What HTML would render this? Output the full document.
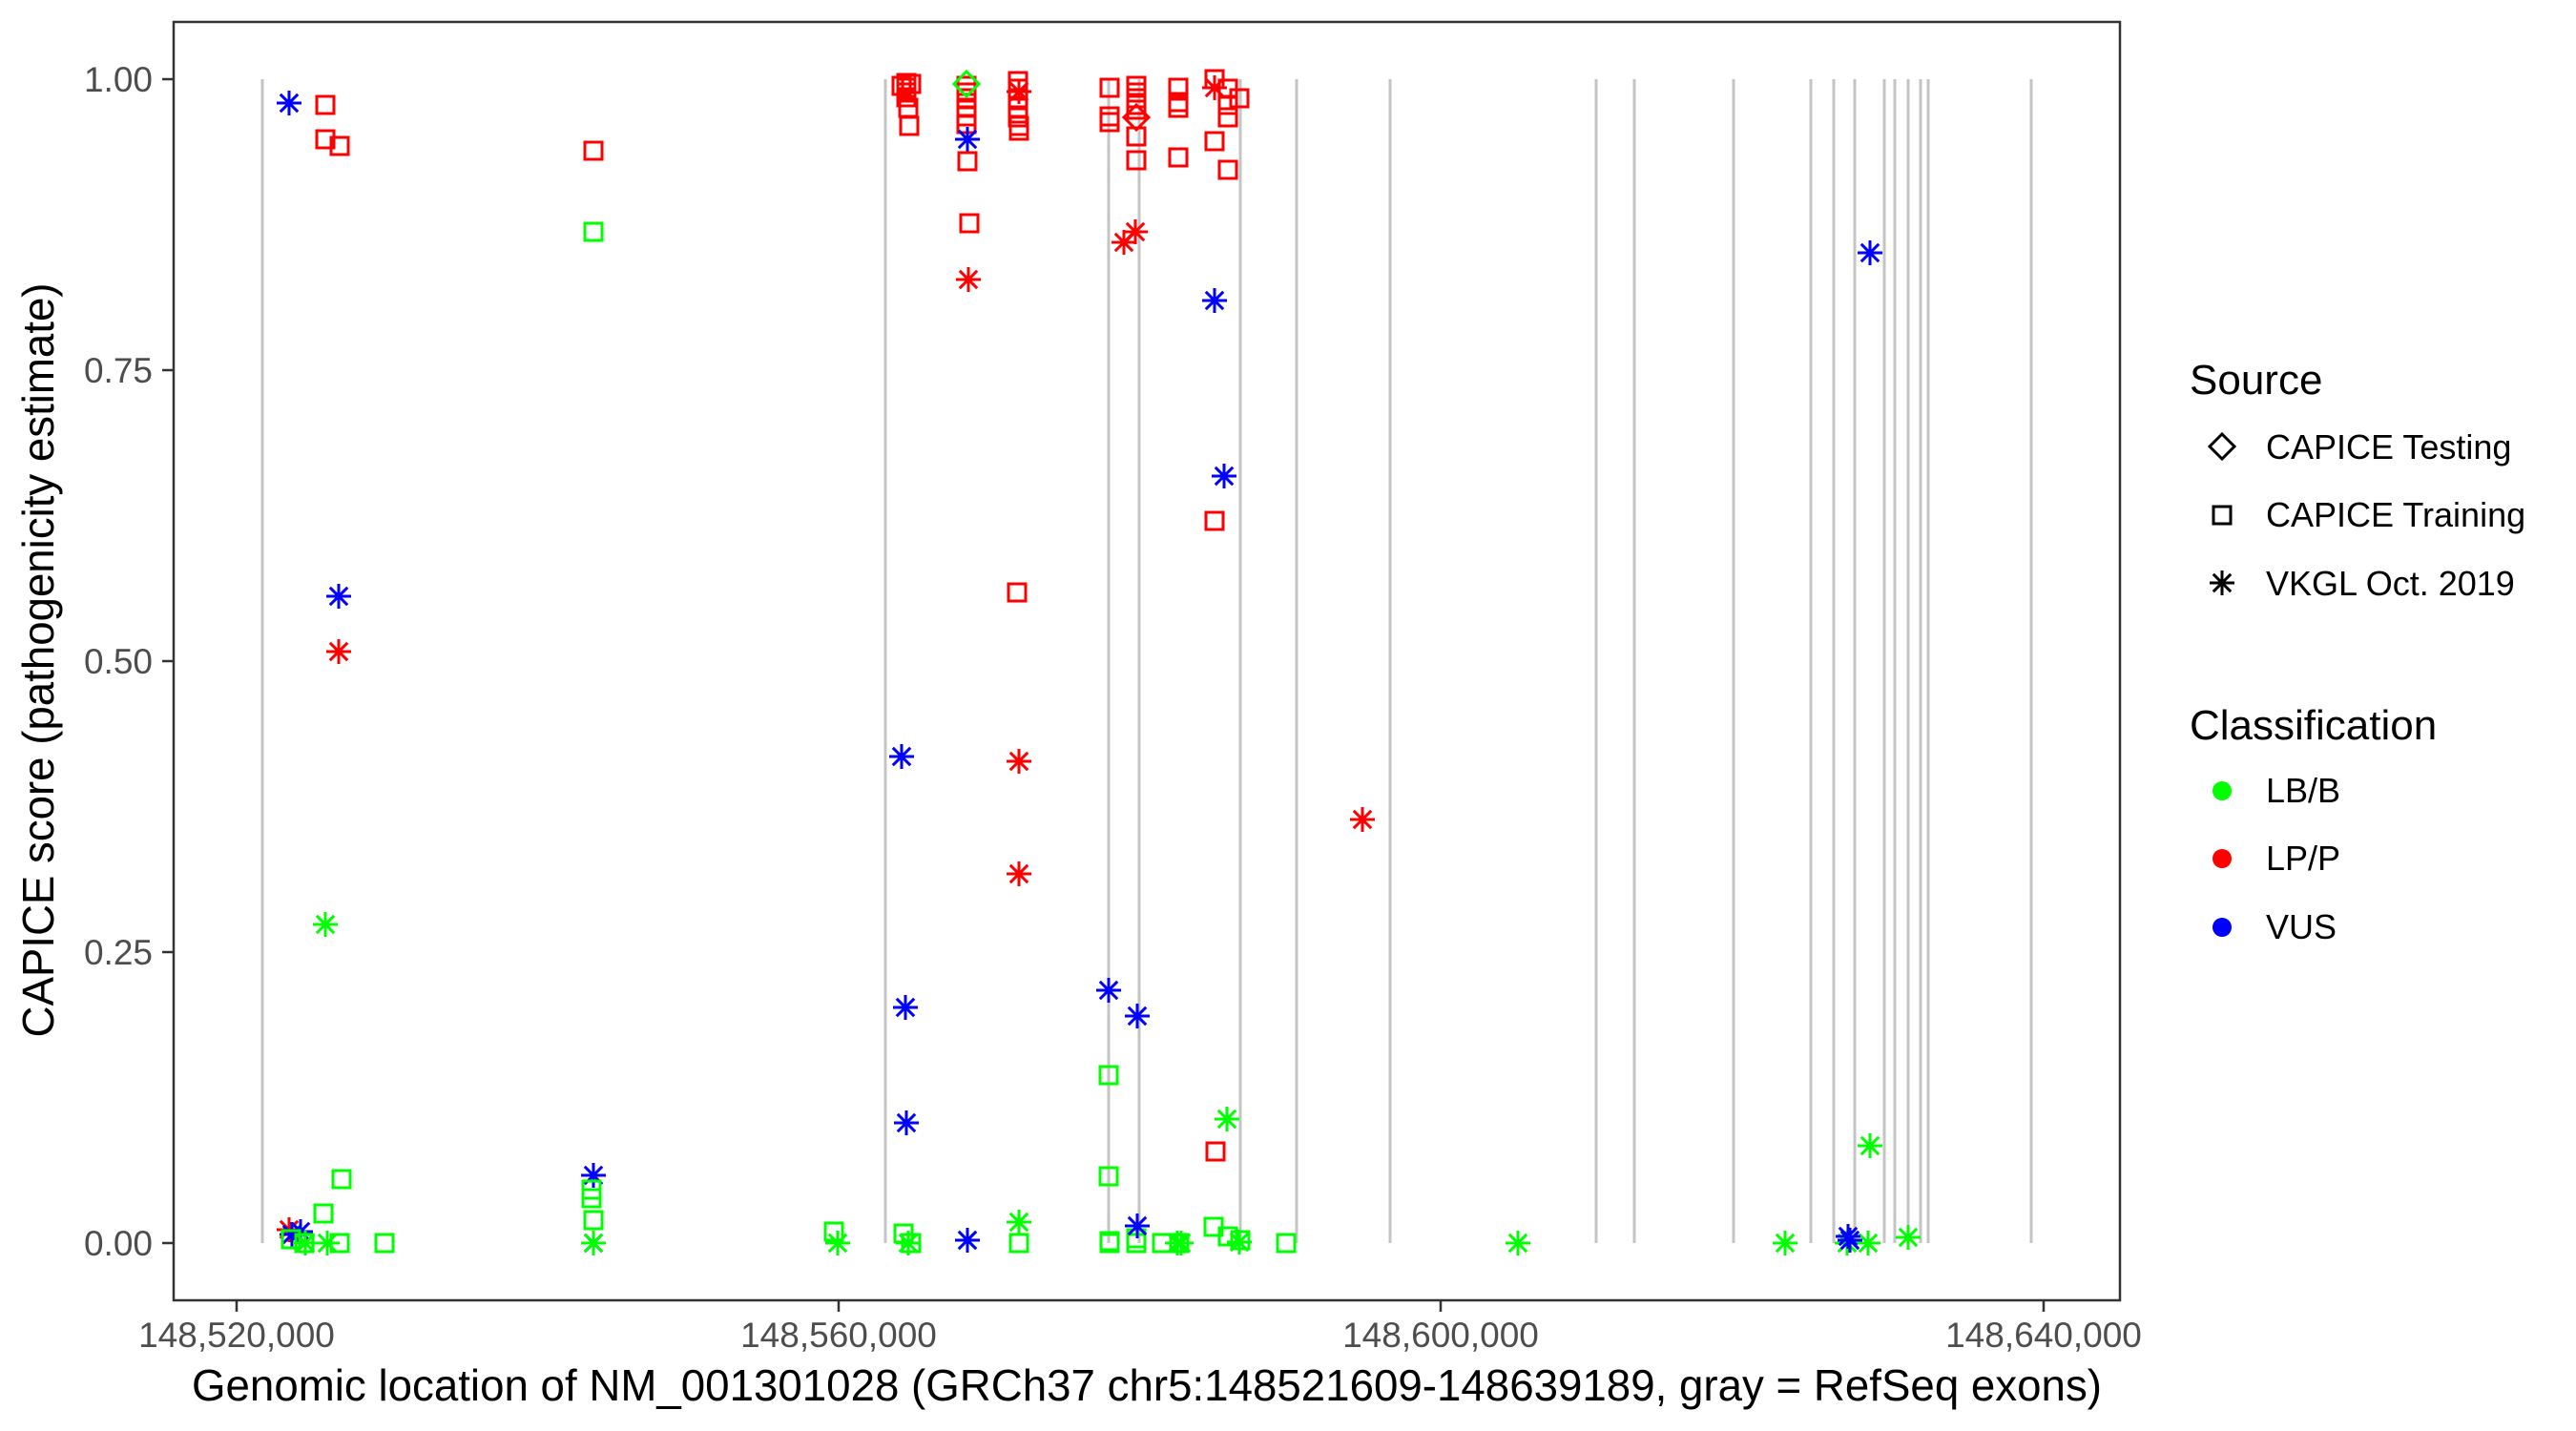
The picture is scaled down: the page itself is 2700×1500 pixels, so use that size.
<!DOCTYPE html>
<html><head><meta charset="utf-8"><style>html,body{margin:0;padding:0;background:#fff}svg{display:block}</style></head>
<body>
<svg id="s" xmlns="http://www.w3.org/2000/svg" width="2700" height="1500" viewBox="0 0 2700 1500" font-family="Liberation Sans, Arial, sans-serif">
<rect width="2700" height="1500" fill="#fff"/>
<g id="ex" stroke="#c4c4c4" stroke-width="3"></g>
<g id="pts" fill="none" stroke-width="3"></g>
<rect x="182" y="23" width="2040" height="1340" fill="none" stroke="#333" stroke-width="2.5"/>
<g stroke="#333" stroke-width="2.5">
<line x1="170" y1="83" x2="182" y2="83"/><line x1="170" y1="388" x2="182" y2="388"/><line x1="170" y1="693" x2="182" y2="693"/><line x1="170" y1="998" x2="182" y2="998"/><line x1="170" y1="1303" x2="182" y2="1303"/>
<line x1="248" y1="1363" x2="248" y2="1375"/><line x1="879" y1="1363" x2="879" y2="1375"/><line x1="1510" y1="1363" x2="1510" y2="1375"/><line x1="2142" y1="1363" x2="2142" y2="1375"/>
</g>
<g fill="#4d4d4d" font-size="37" text-anchor="end">
<text x="160" y="96">1.00</text><text x="160" y="401">0.75</text><text x="160" y="706">0.50</text><text x="160" y="1011">0.25</text><text x="160" y="1316">0.00</text>
</g>
<g fill="#4d4d4d" font-size="37" text-anchor="middle">
<text x="248" y="1412">148,520,000</text><text x="879" y="1412">148,560,000</text><text x="1510" y="1412">148,600,000</text><text x="2142" y="1412">148,640,000</text>
</g>
<text x="1202" y="1468" font-size="46" text-anchor="middle" textLength="2002" lengthAdjust="spacingAndGlyphs">Genomic location of NM_001301028 (GRCh37 chr5:148521609-148639189, gray = RefSeq exons)</text>
<text transform="translate(56,692) rotate(-90)" font-size="46" text-anchor="middle" textLength="791" lengthAdjust="spacingAndGlyphs">CAPICE score (pathogenicity estimate)</text>
<text x="2295" y="413" font-size="44">Source</text>
<g font-size="36"><text x="2375" y="481">CAPICE Testing</text><text x="2375" y="552">CAPICE Training</text><text x="2375" y="624">VKGL Oct. 2019</text></g>
<text x="2295" y="775" font-size="44">Classification</text>
<g font-size="36"><text x="2375" y="841">LB/B</text><text x="2375" y="912">LP/P</text><text x="2375" y="984">VUS</text></g>
<g id="leg" fill="none" stroke="#000" stroke-width="3"></g>
<circle cx="2329" cy="829" r="10" fill="#00ff00"/><circle cx="2329" cy="900" r="10" fill="#ff0000"/><circle cx="2329" cy="972" r="10" fill="#0000ff"/>
</svg>
<script>
var NS="http://www.w3.org/2000/svg";
function el(p,t,a){var e=document.createElementNS(NS,t);for(var k in a)e.setAttribute(k,a[k]);p.appendChild(e);return e;}
var ex=document.getElementById('ex');
[275,928,1162,1194,1300,1359,1457,1673,1713,1817,1898,1922,1944,1975,1986,2000,2013,2021,2129].forEach(function(x){el(ex,'line',{x1:x,y1:83,x2:x,y2:1303});});
var C={g:'#00ff00',r:'#ff0000',b:'#0000ff'};
function mk(p,s,x,y,c){
 if(s=='s'){el(p,'rect',{x:x-9,y:y-9,width:18,height:18,stroke:c});}
 else if(s=='d'){el(p,'path',{d:'M'+x+' '+(y-13)+'L'+(x+13)+' '+y+'L'+x+' '+(y+13)+'L'+(x-13)+' '+y+'Z',stroke:c});}
 else{var r=13,q=9.2;el(p,'path',{d:'M'+x+' '+(y-r)+'V'+(y+r)+'M'+(x-r)+' '+y+'H'+(x+r)+'M'+(x-q)+' '+(y-q)+'L'+(x+q)+' '+(y+q)+'M'+(x-q)+' '+(y+q)+'L'+(x+q)+' '+(y-q),stroke:c});}
}
var P=[
['a',303,108,'b'],['s',341,110,'r'],['s',341,146,'r'],['s',356,153,'r'],['s',622,158,'r'],['s',622,243,'g'],
['a',355,625,'b'],['a',355,683,'r'],['a',341,969,'g'],['s',358,1236,'g'],['s',339,1272,'g'],
['a',303,1289,'r'],['a',306,1294,'b'],['a',315,1291,'b'],['s',305,1299,'g'],['s',319,1303,'g'],['a',320,1303,'g'],['a',343,1303,'g'],['s',356,1303,'g'],['s',403,1303,'g'],
['a',622,1232,'b'],['s',620,1247,'g'],['s',620,1256,'g'],['s',622,1279,'g'],['a',622,1303,'b'],['a',622,1303,'g'],
['s',874,1291,'g'],['a',878,1303,'g'],
['s',950,87,'r'],['s',950,92,'r'],['s',950,97,'r'],['s',950,102,'r'],['s',952,113,'r'],['s',953,132,'r'],['s',945,90,'r'],['s',955,88,'r'],
['s',1013,90,'r'],['s',1013,97,'r'],['s',1013,103,'r'],['s',1013,113,'r'],['s',1013,122,'r'],['s',1013,130,'r'],['d',1013,88,'g'],
['a',1014,146,'b'],['s',1014,169,'r'],['s',1016,234,'r'],['a',1015,293,'r'],
['s',1067,85,'r'],['s',1067,93,'r'],['s',1067,103,'r'],['s',1067,113,'r'],['s',1067,123,'r'],['s',1068,132,'r'],['s',1068,137,'r'],['a',1068,96,'r'],
['s',1163,92,'r'],['s',1163,122,'r'],['s',1163,128,'r'],
['s',1191,90,'r'],['s',1191,97,'r'],['s',1191,103,'r'],['s',1191,110,'r'],['s',1191,115,'r'],['d',1191,123,'r'],['s',1191,143,'r'],['s',1191,168,'r'],['a',1190,243,'r'],['a',1178,254,'r'],
['s',1235,92,'r'],['s',1235,107,'r'],['s',1235,113,'r'],['s',1235,165,'r'],
['s',1273,83,'r'],['a',1273,92,'r'],['s',1273,148,'r'],['s',1287,93,'r'],['s',1287,110,'r'],['s',1287,123,'r'],['s',1287,178,'r'],['s',1299,103,'r'],
['a',945,793,'b'],['a',949,1056,'b'],['a',950,1177,'b'],['a',1068,798,'r'],['a',1068,916,'r'],['s',1066,621,'r'],
['a',1162,1038,'b'],['a',1192,1065,'b'],['s',1162,1127,'g'],['s',1162,1233,'g'],
['a',1273,315,'b'],['s',1273,546,'r'],['a',1283,499,'b'],['a',1286,1173,'g'],['s',1274,1207,'r'],
['a',1428,859,'r'],['a',1960,265,'b'],['a',1960,1201,'g'],
['s',947,1293,'g'],['a',952,1303,'g'],['s',955,1303,'g'],['a',1014,1300,'g'],['a',1014,1300,'b'],
['a',1068,1281,'g'],['s',1068,1303,'g'],['s',1163,1303,'g'],['s',1163,1301,'g'],
['s',1191,1298,'g'],['s',1191,1303,'g'],['a',1192,1285,'b'],
['s',1218,1303,'g'],['a',1234,1303,'g'],['s',1236,1303,'g'],['a',1238,1303,'g'],
['s',1272,1286,'g'],['s',1287,1296,'g'],['s',1300,1300,'g'],['a',1299,1302,'g'],['s',1348,1303,'g'],
['a',1591,1303,'g'],['a',1871,1303,'g'],['a',1936,1303,'g'],['a',1958,1303,'g'],['a',1939,1300,'b'],['a',1937,1296,'b'],['a',2000,1297,'g']
];
var g=document.getElementById('pts');
P.forEach(function(p){mk(g,p[0],p[1],p[2],C[p[3]]);});
var L=document.getElementById('leg');
mk(L,'d',2329,468,'#000');
el(L,'rect',{x:2320,y:531,width:18,height:18,stroke:'#000'});
mk(L,'a',2329,611,'#000');
</script>
</body></html>
